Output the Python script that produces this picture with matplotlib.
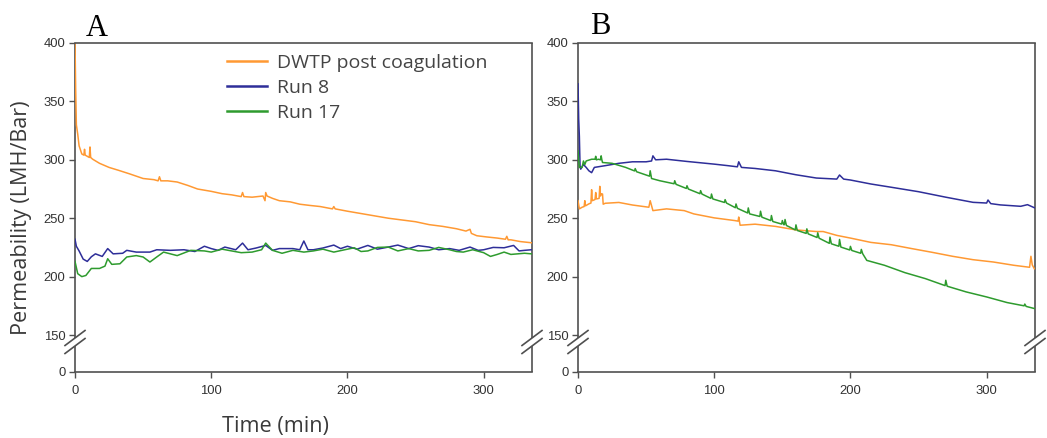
import numpy as np
import matplotlib
matplotlib.use('Agg')
import matplotlib.pyplot as plt

# ---- values (time in min, permeability in LMH/Bar) ----
# Panel A
a_dwtp_t = [0, 0.5, 1, 2, 3, 5, 6.5, 7, 7.5, 9,
            10.5, 11, 11.5, 13, 18, 25, 32, 40, 50, 58,
            61, 62, 63, 68, 75, 83, 90, 100, 108, 115,
            122, 123, 124, 130, 138, 139.5, 140, 141, 145, 150,
            158, 165, 172, 180, 189, 190, 191, 200, 210, 220,
            230, 240, 250, 260, 270, 280, 287, 290, 291, 295,
            302, 310, 316, 317, 318, 320, 327, 335]
a_dwtp_v = [400, 360, 330, 322, 312, 305, 304, 309, 304, 303,
            302, 311, 302, 300.5, 297, 293.5, 291, 288, 284, 283,
            282, 285.5, 282, 282, 281, 278, 275, 273, 271, 270,
            268.5, 272, 268.5, 268, 269, 265, 272, 269, 267, 265,
            264, 262, 261, 260, 258, 260, 258, 256, 254, 252,
            250, 248.5, 247, 244.5, 243, 241, 239, 240.5, 237, 235,
            234, 233, 232, 234.5, 231.5, 231.5, 230, 229]

a_run8_t = [0, 1, 3, 6, 9, 12, 15, 20, 24, 28,
            35, 38, 45, 55, 60, 70, 80, 88, 95, 100,
            105, 110, 118, 123, 127, 133, 140, 145, 150, 160,
            165, 168, 171, 175, 182, 190, 195, 200, 207, 215,
            222, 230, 237, 245, 252, 260, 267, 275, 282, 290,
            296, 300, 307, 315, 322, 326, 330, 335]
a_run8_v = [232, 226, 222, 215, 213, 217, 219.5, 217.3, 224, 219.5,
            220, 222.5, 221, 221, 223, 222.5, 223, 221.5, 226, 224,
            222.5, 225.3, 223, 228.7, 223, 224.5, 226.7, 222.5, 224, 224,
            223, 230.5, 223, 223, 224.5, 227, 224, 226, 223.5, 226.7,
            223.5, 225.3, 227, 224, 226.5, 225.3, 223, 224, 222.5, 225.3,
            222.5, 223, 225, 224.7, 226.7, 222, 222.5, 223]

a_run17_t = [0, 2, 5, 8, 12, 18, 22, 24, 27, 33,
             38, 45, 50, 55, 60, 65, 75, 85, 95, 100,
             108, 115, 122, 130, 137, 140, 145, 152, 160, 168,
             175, 182, 190, 198, 205, 210, 215, 222, 230, 237,
             245, 252, 260, 267, 275, 280, 285, 292, 300, 305,
             310, 315, 320, 325, 330, 335]
a_run17_v = [213, 202.5, 200, 201, 207, 207, 209, 215.3, 210.5, 211,
             216.8, 218, 216.8, 212.5, 216.8, 221, 218, 222.5, 222, 221,
             223.5, 222, 220.5, 221, 223, 228.7, 222.5, 220, 222.5, 221,
             222, 223.5, 221, 223, 224.7, 221.5, 222, 225, 225.3, 222,
             224, 222, 222.5, 225, 223, 221.5, 221, 223, 220.5, 217.3,
             219, 221, 219, 219.5, 220, 219.5]

# Panel B
b_dwtp_t = [0, 1, 3, 4.5, 5, 5.5, 8, 9.5, 10, 10.5,
            12.5, 13, 13.5, 15.5, 16, 16.5, 17, 18, 18.5, 20,
            30, 40, 52, 53, 55, 65, 78, 85, 100, 115,
            117.5, 118, 119, 130, 145, 160, 175, 180, 190, 200,
            215, 230, 245, 260, 275, 290, 305, 320, 331.5, 332.5,
            333.5, 335]
b_dwtp_v = [265, 258, 259.4, 260, 265, 260.6, 262.3, 263, 274.4, 265,
            266, 272, 266.5, 267, 277.3, 269, 271, 270.7, 262, 262.8,
            263.5, 261.3, 259.4, 265, 256.5, 258, 256.5, 253.7, 250.3, 248,
            247.5, 251, 244, 244.9, 243, 240, 238.6, 238.6, 235.3, 233,
            229.3, 227.3, 224, 220.8, 217.4, 214.5, 212.5, 209.7, 208, 217.4,
            210, 206.8]

b_run8_t = [0, 0.5, 1, 1.5, 2, 4, 6, 8, 10, 12,
            20, 30, 40, 50, 54, 55, 57, 65, 80, 100,
            110, 117, 118, 120, 130, 145, 160, 175, 190, 192,
            195, 200, 215, 230, 250, 270, 290, 300, 301, 303,
            310, 325, 330, 335]
b_run8_v = [365, 335, 320, 295, 292, 296, 293.5, 290.6, 289, 293.5,
            295, 297, 298.3, 298.3, 299, 303.4, 300, 300.5, 298.6, 296.3,
            295, 294, 298.3, 293.5, 292.6, 290.6, 287.2, 284.4, 283.5, 287,
            283.5, 282.7, 279.3, 276.5, 272.7, 268, 263.6, 263, 265.6, 262.5,
            261.4, 260.2, 261.6, 259]

b_run17_t = [0, 0.5, 1, 3, 4, 5, 6, 10, 12.5, 13,
             13.5, 15, 16.5, 17, 17.5, 18, 25, 35, 41.5, 42,
             43, 50, 52.5, 53, 54, 60, 70.5, 71, 72, 79.5,
             80, 81, 89.5, 90, 91, 97.5, 98, 99, 107.5, 108,
             109, 115.5, 116, 117, 124.5, 125, 126, 133.5, 134, 135,
             141.5, 142, 143, 149.5, 150, 151, 151.5, 152, 153, 159.5,
             160, 161, 167.5, 168, 169, 175.5, 176, 177, 184.5, 185,
             186, 191.5, 192, 193, 199.5, 200, 201, 207.5, 208, 209,
             212, 225, 240, 255, 269.5, 270, 271, 285, 300, 315,
             327.5, 328, 329, 335]
b_run17_v = [307.7, 300, 293.5, 293.5, 299, 296, 299, 300.5, 300.5, 303,
             300, 300.5, 300, 303.4, 300, 297.7, 297, 293.5, 290.5, 292.5,
             289.8, 287, 286, 290.6, 284, 282.1, 279.5, 282.1, 279, 275.5,
             277.8, 275, 271, 273.6, 270.7, 267, 270.7, 266.5, 263.5, 265.9,
             263, 259, 262.2, 258.5, 254.5, 258.8, 253.7, 251.5, 256, 250.9,
             248, 252.3, 247.2, 245, 248, 244.5, 244.5, 248.9, 243.8, 240,
             244.3, 239.5, 237, 240.9, 236.6, 233.5, 237.5, 232.9, 228.5, 233.8,
             228.1, 226, 231.8, 225.3, 222.8, 225.9, 222.4, 220, 223.3, 219.6,
             213.9, 209.7, 203.4, 198.3, 192.3, 196.9, 191.8, 186.9, 182.6, 177.8,
             175, 176.5, 174.5, 172.7]

labels = ['DWTP post coagulation', 'Run 8', 'Run 17']
colors = ['#FF9933', '#2E2E99', '#2E9B2E']
y_ticks = [0, 150, 200, 250, 300, 350, 400]
x_ticks = [0, 100, 200, 300]

# broken axis: 0..150 squeezed into a short strip under 150
K = 0.211


def fwd(y):
    y = np.asarray(y, dtype=float)
    return np.where(y >= 150, y, 150 - (150 - y) * K)


def inv(u):
    u = np.asarray(u, dtype=float)
    return np.where(u >= 150, u, 150 - (150 - u) / K)


W, H = 1047, 438
SPINE = '#505050'
fig = plt.figure(figsize=(W / 100, H / 100), dpi=100)
axA = fig.add_axes([75 / W, 1 - 372 / H, 457 / W, 329 / H])
axB = fig.add_axes([578 / W, 1 - 372 / H, 457 / W, 329 / H])


def style_axis(ax):
    ax.set_yscale('function', functions=(fwd, inv))
    ax.set_ylim(0, 400)
    ax.set_xlim(0, 335.5)
    ax.set_yticks(y_ticks)
    ax.set_xticks(x_ticks)
    ax.yaxis.set_minor_locator(matplotlib.ticker.NullLocator())
    ax.set_yticklabels([str(v) for v in y_ticks])
    ax.tick_params(direction='out', length=4.5, width=1.0, color=SPINE,
                   labelcolor='#333333', labelsize=9.4, pad=2.5)
    ax.tick_params(axis='x', pad=5)
    for lab in ax.get_xticklabels() + ax.get_yticklabels():
        lab.set_fontfamily('Liberation Sans')
    for s in ['top', 'bottom']:
        ax.spines[s].set_color(SPINE)
        ax.spines[s].set_linewidth(1.2)
    ax.spines['left'].set_visible(False)
    ax.spines['right'].set_visible(False)

    # spines with a gap and the // break marks
    wpx, hpx = 457.0, 329.0
    lo, hi = 26 / hpx, 34 / hpx
    dx, dy = 10 / wpx, 7.5 / hpx
    for x in (0, 1):
        ax.plot([x, x], [0, lo], transform=ax.transAxes, color=SPINE, lw=1.2,
                clip_on=False, solid_capstyle='butt')
        ax.plot([x, x], [hi, 1], transform=ax.transAxes, color=SPINE, lw=1.2,
                clip_on=False, solid_capstyle='butt')
        for yc in (lo, hi):
            ax.plot([x - dx, x + dx], [yc - dy, yc + dy], transform=ax.transAxes,
                    color=SPINE, lw=1.2, clip_on=False)


style_axis(axA)
style_axis(axB)

series_A = [(a_dwtp_t, a_dwtp_v), (a_run8_t, a_run8_v), (a_run17_t, a_run17_v)]
series_B = [(b_dwtp_t, b_dwtp_v), (b_run8_t, b_run8_v), (b_run17_t, b_run17_v)]

for (t, v), c, lab in zip(series_A, colors, labels):
    axA.plot(t, v, color=c, lw=1.1, label=lab)
for (t, v), c in zip(series_B, colors):
    axB.plot(t, v, color=c, lw=1.1)

leg = axA.legend(loc='upper left', bbox_to_anchor=(0.332, 0.968), frameon=False,
                 prop={'family': 'Open Sans', 'size': 14}, handlelength=2.05,
                 handletextpad=0.55, labelspacing=0.36, borderaxespad=0,
                 borderpad=0, labelcolor='#444444')
for h in leg.get_lines():
    h.set_linewidth(1.8)

axA.set_ylabel('Permeability (LMH/Bar)', fontfamily='Open Sans', fontsize=15.6,
               color='#3a3a3a')
axA.yaxis.set_label_coords(-0.094, 0.47)
axA.set_xlabel('Time (min)', fontfamily='Open Sans', fontsize=15.6, color='#3a3a3a')
axA.xaxis.set_label_coords(0.438, -0.135)

fig.text(86 / W, 1 - 36 / H, 'A', family='Liberation Serif', fontsize=22,
         va='baseline', ha='left')
fig.text(590 / W, 1 - 34 / H, 'B', family='Liberation Serif', fontsize=22,
         va='baseline', ha='left')

fig.savefig('out.png', dpi=100)
